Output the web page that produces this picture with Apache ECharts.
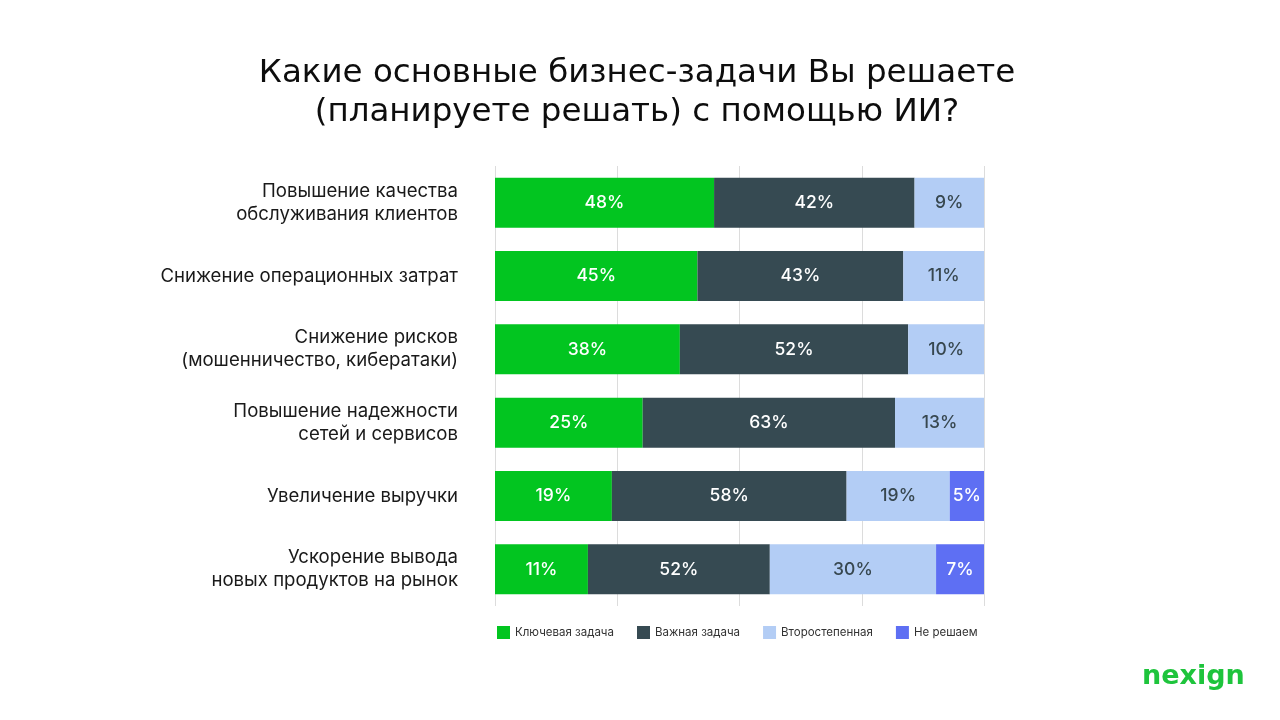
<!DOCTYPE html>
<html>
<head>
<meta charset="utf-8">
<script src="https://cdn.jsdelivr.net/npm/echarts@6/dist/echarts.min.js"></script>
<style>
html,body{margin:0;padding:0;background:#fff;}
#chart{width:1280px;height:720px;}
</style>
</head>
<body>
<div id="chart"></div>
<script>
// Categories (top to bottom)
const categories = [
  'Повышение качества\nобслуживания клиентов',
  'Снижение операционных затрат',
  'Снижение рисков\n(мошенничество, кибератаки)',
  'Повышение надежности\nсетей и сервисов',
  'Увеличение выручки',
  'Ускорение вывода\nновых продуктов на рынок'
];
const seriesNames = ['Ключевая задача', 'Важная задача', 'Второстепенная', 'Не решаем'];

// Segment lengths as drawn in the picture (share of the bar, %)
const keyTask       = [44.8, 41.4, 37.8, 30.2, 23.9, 19.0];
const importantTask = [41.0, 42.1, 46.7, 51.6, 48.0, 37.2];
const secondaryTask = [14.2, 16.5, 15.5, 18.2, 21.1, 34.0];
const notSolving    = [0, 0, 0, 0, 7.0, 9.8];

// Printed percentage labels
const keyLabels       = [48, 45, 38, 25, 19, 11];
const importantLabels = [42, 43, 52, 63, 58, 52];
const secondaryLabels = [9, 11, 10, 13, 19, 30];
const notLabels       = [null, null, null, null, 5, 7];

const titleText = 'Какие основные бизнес-задачи Вы решаете\n(планируете решать) с помощью ИИ?';
const logoText = 'nexign';

const colors = ['#02c520', '#364a52', '#b3cdf5', '#5e6ff3'];
const labelColors = ['#ffffff', '#ffffff', '#37474f', '#ffffff'];
const valueSets = [keyTask, importantTask, secondaryTask, notSolving];
const labelSets = [keyLabels, importantLabels, secondaryLabels, notLabels];

const chart = echarts.init(document.getElementById('chart'));

const series = seriesNames.map((name, i) => ({
  name: name,
  type: 'bar',
  stack: 'total',
  barWidth: 50,
  data: valueSets[i],
  itemStyle: { color: colors[i] },
  label: {
    show: true,
    position: 'inside',
    color: labelColors[i],
    fontFamily: 'Inter',
    fontSize: 17.5,
    fontWeight: 500,
    formatter: p => {
      const v = labelSets[i][p.dataIndex];
      return v == null ? '' : v + '%';
    }
  }
}));

chart.setOption({
  backgroundColor: '#ffffff',
  animation: false,
  legend: {
    data: seriesNames,
    left: 492,
    top: 621,
    icon: 'rect',
    itemWidth: 13,
    itemHeight: 13,
    itemGap: 23,
    textStyle: {
      fontFamily: 'Inter',
      fontSize: 11.5,
      color: '#333333'
    }
  },
  grid: {
    left: 495,
    right: 296,
    top: 166,
    height: 440,
    containLabel: false
  },
  xAxis: {
    type: 'value',
    min: 0,
    max: 100,
    interval: 25,
    axisLabel: { show: false },
    axisLine: { show: false },
    axisTick: { show: false },
    splitLine: { show: true, lineStyle: { color: '#dcdcdc', width: 1 } }
  },
  yAxis: {
    type: 'category',
    inverse: true,
    data: categories,
    axisLine: { show: false },
    axisTick: { show: false },
    axisLabel: {
      margin: 37,
      align: 'right',
      fontFamily: 'Inter',
      fontSize: 18.6,
      lineHeight: 23,
      color: '#1a1a1a'
    }
  },
  graphic: [{
    type: 'text',
    x: 637,
    y: 54,
    style: {
      text: titleText,
      align: 'center',
      verticalAlign: 'top',
      fontFamily: 'DejaVu Sans',
      fontSize: 32.5,
      lineHeight: 39,
      fill: '#0d0d0d'
    }
  }, {
    type: 'text',
    x: 1142,
    y: 677,
    style: {
      text: logoText,
      align: 'left',
      verticalAlign: 'middle',
      fontFamily: 'DejaVu Sans',
      fontSize: 27,
      fontWeight: 'bold',
      fill: '#1ec43c'
    }
  }],
  series: series
});
</script>
</body>
</html>
